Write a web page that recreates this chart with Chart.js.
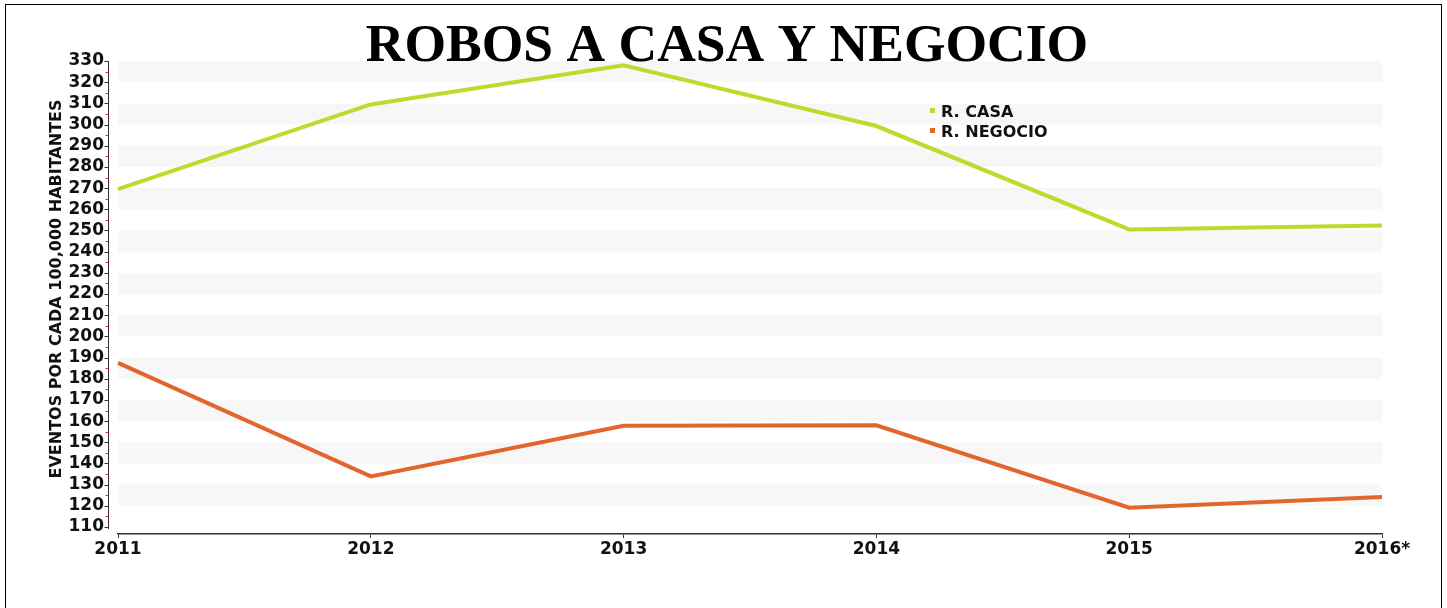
<!DOCTYPE html>
<html>
<head>
<meta charset="utf-8">
<script src="https://cdn.jsdelivr.net/npm/chart.js@4.4.1/dist/chart.umd.min.js"></script>
<style>
  html, body { margin: 0; padding: 0; background: #fff; }
  #wrap { position: relative; width: 1447px; height: 608px; overflow: hidden; }
  #frame { position: absolute; left: 5px; top: 4px; width: 1435px; height: 700px; border: 1px solid #000; pointer-events: none; }
</style>
</head>
<body>
<div id="wrap">
  <canvas id="c" width="1447" height="608"></canvas>
  <div id="frame"></div>
</div>
<script>
const title = 'ROBOS A CASA Y NEGOCIO';
const yAxisTitle = 'EVENTOS POR CADA 100,000 HABITANTES';
const years = ['2011', '2012', '2013', '2014', '2015', '2016*'];
const robosCasa = [269.5, 309.5, 328, 299.3, 250.5, 252.3];
const robosNegocio = [187.5, 133.9, 157.8, 158, 119.1, 124.2];
const yTicks = [110, 120, 130, 140, 150, 160, 170, 180, 190, 200, 210, 220, 230, 240, 250, 260, 270, 280, 290, 300, 310, 320, 330];

const FONT = '"DejaVu Sans", sans-serif';

const decorPlugin = {
  id: 'decor',
  beforeDatasetsDraw(chart) {
    const { ctx, chartArea } = chart;
    const y = chart.scales.y;
    ctx.save();
    ctx.fillStyle = '#f7f7f7';
    for (let i = 1; i < yTicks.length - 1; i += 2) {
      const lo = yTicks[i], hi = yTicks[i + 1];
      const top = y.getPixelForValue(hi), bot = y.getPixelForValue(lo);
      ctx.fillRect(chartArea.left, top, chartArea.right - chartArea.left, bot - top);
    }
    ctx.restore();
  },
  afterDraw(chart) {
    const { ctx } = chart;
    const y = chart.scales.y;
    ctx.save();
    const ax = 108.5;
    ctx.strokeStyle = '#333';
    ctx.lineWidth = 1;
    ctx.beginPath();
    ctx.moveTo(ax, y.getPixelForValue(yTicks[yTicks.length - 1]));
    ctx.lineTo(ax, y.getPixelForValue(yTicks[0]) + 2);
    ctx.stroke();
    yTicks.forEach((v, i) => {
      const py = Math.round(y.getPixelForValue(v)) + 0.5;
      ctx.strokeStyle = '#333';
      ctx.beginPath(); ctx.moveTo(ax - 4, py); ctx.lineTo(ax, py); ctx.stroke();
      if (i < yTicks.length - 1) {
        const my = Math.round(y.getPixelForValue(v + 5)) + 0.5;
        ctx.strokeStyle = '#e0303a';
        ctx.beginPath(); ctx.moveTo(ax - 3, my); ctx.lineTo(ax, my); ctx.stroke();
      }
    });
    ctx.fillStyle = '#111';
    ctx.font = 'bold 16px ' + FONT;
    ctx.translate(57, 289);
    ctx.rotate(-Math.PI / 2);
    ctx.textAlign = 'center';
    ctx.textBaseline = 'middle';
    ctx.fillText(yAxisTitle, 0, 0);
    ctx.restore();

    ctx.save();
    ctx.fillStyle = '#000';
    ctx.font = 'bold 53.5px "Liberation Serif", serif';
    ctx.textAlign = 'center';
    ctx.textBaseline = 'alphabetic';
    ctx.fillText(title, 727, 61);
    ctx.restore();

    ctx.save();
    ctx.font = 'bold 16px ' + FONT;
    ctx.textBaseline = 'alphabetic';
    ctx.textAlign = 'left';
    chart.data.datasets.forEach((ds, i) => {
      const by = 117 + i * 20;
      ctx.fillStyle = ds.borderColor;
      ctx.fillRect(930, by - 9, 5, 5);
      ctx.fillStyle = '#111';
      ctx.fillText(ds.label, 941, by);
    });
    ctx.restore();
  }
};

new Chart(document.getElementById('c'), {
  type: 'line',
  data: {
    labels: years,
    datasets: [
      { label: 'R. CASA', data: robosCasa, borderColor: '#bcdc2c', backgroundColor: '#bcdc2c', borderWidth: 4, pointRadius: 0, tension: 0, fill: false },
      { label: 'R. NEGOCIO', data: robosNegocio, borderColor: '#e2652e', backgroundColor: '#e2652e', borderWidth: 4, pointRadius: 0, tension: 0, fill: false }
    ]
  },
  options: {
    responsive: false,
    animation: false,
    devicePixelRatio: 1,
    layout: { padding: { left: 0, right: 65, top: 61, bottom: 0 } },
    plugins: {
      legend: { display: false },
      title: { display: false },
      tooltip: { enabled: false }
    },
    scales: {
      x: {
        afterFit(scale) { scale.height = 74; },
        border: { display: true, color: '#333', width: 1.5 },
        grid: { display: true, drawOnChartArea: false, drawTicks: true, tickLength: 4, color: '#333' },
        ticks: { color: '#111', font: { family: FONT, size: 17, weight: 'bold' }, padding: 1, maxRotation: 0, autoSkip: false }
      },
      y: {
        min: 106.7,
        max: 330,
        afterFit(scale) { scale.width = 118; },
        afterBuildTicks(scale) { scale.ticks = yTicks.map(v => ({ value: v })); },
        border: { display: false },
        grid: { display: false, drawTicks: false },
        ticks: { color: '#111', font: { family: FONT, size: 17, weight: 'bold' }, padding: 14, autoSkip: false }
      }
    }
  },
  plugins: [decorPlugin]
});
</script>
</body>
</html>
